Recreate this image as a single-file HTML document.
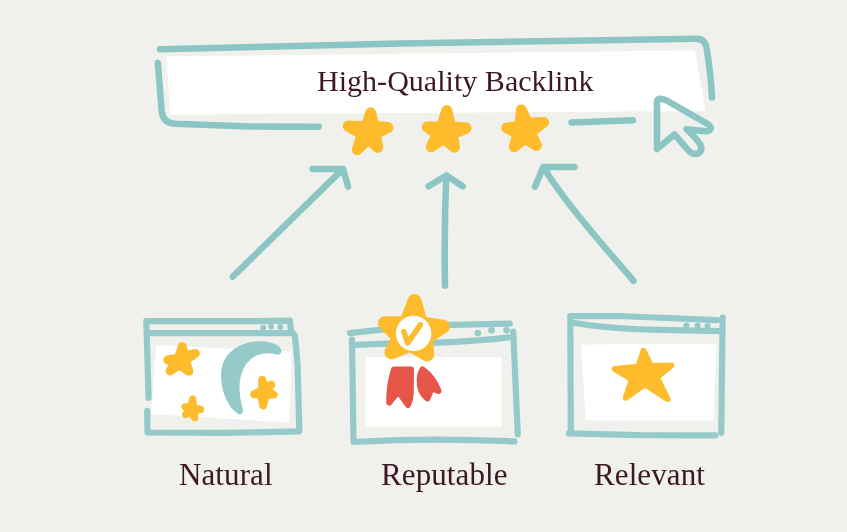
<!DOCTYPE html>
<html><head><meta charset="utf-8"><style>
html,body{margin:0;padding:0;background:#f0f1ec;width:847px;height:532px;overflow:hidden}
svg{position:absolute;left:0;top:0}
.t{position:absolute;will-change:transform;font-family:"Liberation Serif",serif;color:#3c1724;line-height:1;white-space:nowrap}
</style></head><body>
<svg width="847" height="532" viewBox="0 0 847 532">
<polygon points="166.5,56.4 695,50.5 705.5,111 170,114.5" fill="#fff"/>
<path d="M160,49.2 L400,43.5 L696,38.8 Q705,38.6 706.5,48 Q710.5,70 712,97.5" fill="none" stroke="#8bc6c4" stroke-width="6.5" stroke-linecap="round" stroke-linejoin="round"/>
<path d="M157.8,63 L161.8,112 Q163,123 175,123.8 L250,126.6 L318.6,126.8" fill="none" stroke="#8bc6c4" stroke-width="6.5" stroke-linecap="round" stroke-linejoin="round"/>
<path d="M571.5,122.4 L632.9,120.3" stroke="#8bc6c4" stroke-width="6.5" stroke-linecap="round"/>
<path d="M657,101 Q657,98.6 661,98.8 Q664,99.2 668,101.2 L707,123.6 Q712.5,127 710,130 Q709,131.3 706,131.2 L686.5,129.2 Q697,139 700.5,145 Q703,151 698,153.5 Q693,155.5 688,150 Q682,143 674.4,134.5 L657,149 Z" fill="none" stroke="#8bc6c4" stroke-width="6.5" stroke-linecap="round" stroke-linejoin="round"/>
<path d="M370.6,112.8 L374.0,126.2 L387.9,127.5 L375.2,133.9 L377.8,147.4 L368.5,138.8 L357.3,149.6 L362.1,134.4 L348.2,126.0 L366.3,126.7Z" fill="#febb2c" stroke="#febb2c" stroke-width="11.0" stroke-linejoin="round"/>
<path d="M446.8,110.6 L450.7,126.7 L466.1,128.1 L451.9,134.1 L454.5,147.2 L443.9,138.3 L431.3,146.8 L437.5,134.2 L427.2,126.9 L441.6,127.0Z" fill="#febb2c" stroke="#febb2c" stroke-width="11.0" stroke-linejoin="round"/>
<path d="M521.3,109.9 L527.1,123.3 L543.6,122.4 L530.2,132.4 L536.3,145.4 L524.7,138.2 L514.3,146.7 L518.2,133.6 L506.7,127.9 L520.1,126.0Z" fill="#febb2c" stroke="#febb2c" stroke-width="11.0" stroke-linejoin="round"/>
<path d="M232.7,276.7 L343,168.9 M312.6,168.9 L343,168.9 L348.1,186.7" fill="none" stroke="#8bc6c4" stroke-width="6.5" stroke-linecap="round" stroke-linejoin="round"/>
<path d="M445,285.8 Q444,230 446.3,175.4 M428.6,186.3 L446.3,175.4 L462.7,186.3" fill="none" stroke="#8bc6c4" stroke-width="6.5" stroke-linecap="round" stroke-linejoin="round"/>
<path d="M633.5,280.8 C612,255 570,210 543.5,167.5 M574.5,166.9 L543.2,166.9 L535,186.8" fill="none" stroke="#8bc6c4" stroke-width="6.5" stroke-linecap="round" stroke-linejoin="round"/>
<polygon points="156.1,345.1 291.4,351.5 289.3,422.6 151.3,414.1" fill="#fff"/>
<path d="M146.2,321 L255,321.2 L289.9,320.6 L290.8,329.1 M148.8,333.1 L292,333 Q295,333.5 295.2,338 L297.6,365 L299.3,431.3 L225,432.9 L147.5,432.5 L147.2,410.8 M148.6,398 L146.8,336.3 L146.2,321" fill="none" stroke="#96caca" stroke-width="6.2" stroke-linecap="round" stroke-linejoin="round"/>
<circle cx="263.2" cy="327.8" r="3" fill="#96caca"/>
<circle cx="271.1" cy="326.5" r="3" fill="#96caca"/>
<circle cx="280.3" cy="327.1" r="3" fill="#96caca"/>
<path d="M279,347.5 C272,342 262,341.5 252,342.5 C234,346 222,357 221.8,374 C221.5,391 228,406 238,413 Q243,415 242,409 C238,396 238,385 240,376 C243,365 249,358 257,354.5 C264,352 272,352 278,354 Q283,353 279,347.5 Z" fill="#96caca" stroke="#96caca" stroke-width="1.5" stroke-linejoin="round"/>
<path d="M182.2,346.6 L184.7,355.6 L195.4,353.4 L185.2,360.5 L188.9,371.2 L179.2,364.7 L170.0,371.0 L174.9,363.3 L167.9,360.0 L178.6,358.2Z" fill="#febb2c" stroke="#febb2c" stroke-width="9.0" stroke-linejoin="round"/>
<path d="M192.8,398.8 L193.3,407.5 L200.7,409.5 L194.3,411.7 L194.8,417.9 L190.2,411.8 L185.5,414.5 L188.5,410.0 L184.9,406.8 L190.3,407.1Z" fill="#febb2c" stroke="#febb2c" stroke-width="7.0" stroke-linejoin="round"/>
<path d="M262.3,379.8 L265.0,387.3 L271.3,384.6 L267.7,390.9 L273.6,394.6 L266.0,394.7 L263.0,405.4 L261.6,395.1 L254.2,394.2 L262.2,390.4Z" fill="#febb2c" stroke="#febb2c" stroke-width="8.0" stroke-linejoin="round"/>
<polygon points="365.4,357 501.8,357 501.8,426.8 365.4,426.8" fill="#fff"/>
<path d="M350,333.2 Q400,327 440,325.1 L509.9,323.7 M354.3,344.8 L388.9,343.7 L440,342.6 Q480,341 508,337.4 M352,339.5 L353.5,442 Q430,437.5 514.4,441.3 M513.2,331.7 L517.8,434.4" fill="none" stroke="#96caca" stroke-width="6.2" stroke-linecap="round" stroke-linejoin="round"/>
<circle cx="477.8" cy="333.1" r="3.3" fill="#96caca"/>
<circle cx="491.5" cy="330.3" r="3.3" fill="#96caca"/>
<circle cx="506.6" cy="330.3" r="3.3" fill="#96caca"/>
<path d="M394,369.5 L411,369.5 L410.8,392 Q410.5,400 408,405 L398.3,391.5 L389.2,402.5 Q389,385 394,369.5 Z" fill="#e65648" stroke="#e65648" stroke-width="6" stroke-linejoin="round"/>
<path d="M422.5,369.5 Q434,378 438.5,391 L431.5,388.5 L427.5,398.5 Q419,392 419.7,380 Q420,373 422.5,369.5 Z" fill="#e65648" stroke="#e65648" stroke-width="6" stroke-linejoin="round"/>
<path d="M414.5,301.0 L420.8,323.3 L442.8,326.7 L426.0,337.6 L427.1,354.4 L410.5,344.6 L391.5,352.3 L399.0,337.4 L385.0,323.2 L406.1,323.6Z" fill="#febb2c" stroke="#febb2c" stroke-width="14.0" stroke-linejoin="round"/>
<circle cx="413.6" cy="333.4" r="17.7" fill="#fff"/>
<path d="M403.8,331.6 L407.6,342.9 L420.4,324.8" fill="none" stroke="#febb2c" stroke-width="5.5" stroke-linecap="round" stroke-linejoin="round"/>
<polygon points="581,344.5 716.7,343.8 713.4,420.4 585.7,420.4" fill="#fff"/>
<path d="M570.3,316.2 L618.7,316 L717,320.2 M572.2,322.5 Q600,328 650.6,329.7 L719,331.2 M722.6,317.5 L721.3,432.9 M715.4,435.3 L640,435.1 L568.8,433.3 M570.8,432.5 L570.3,317" fill="none" stroke="#96caca" stroke-width="6.2" stroke-linecap="round" stroke-linejoin="round"/>
<circle cx="686.4" cy="325.4" r="3" fill="#96caca"/>
<circle cx="697.6" cy="325.4" r="3" fill="#96caca"/>
<circle cx="707.5" cy="326.1" r="3" fill="#96caca"/>
<path d="M643.5,350.9 L651.2,366.1 L671.5,365.4 L656.8,377.2 L667.6,399.1 L644.7,384.3 L625.7,397.7 L632.0,379.3 L614.7,369.0 L638.3,366.8Z" fill="#febb2c" stroke="#febb2c" stroke-width="6.0" stroke-linejoin="round"/>
</svg>
<div class="t" style="left:316.8px;top:66px;font-size:30px;letter-spacing:0.03px">High-Quality Backlink</div>
<div class="t" style="left:178.6px;top:458.6px;font-size:31px;letter-spacing:0.1px">Natural</div>
<div class="t" style="left:381px;top:459px;font-size:31px;letter-spacing:0.1px">Reputable</div>
<div class="t" style="left:594px;top:458.6px;font-size:31px;letter-spacing:0.1px">Relevant</div>
</body></html>
